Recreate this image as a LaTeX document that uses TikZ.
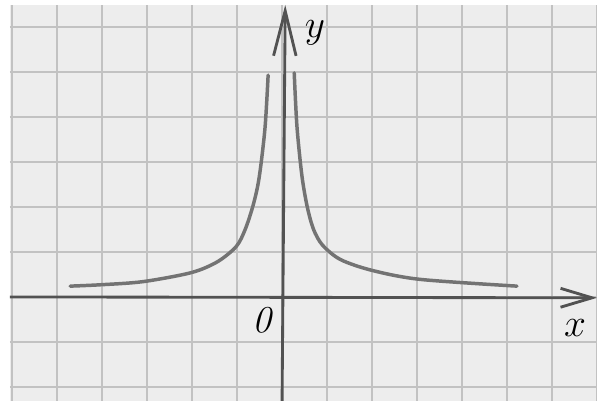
\documentclass[tikz,border=0pt]{standalone}
\usepackage{xcolor}
\usepackage{amsmath, amssymb}
\usepackage{tikz}
\usetikzlibrary{arrows.meta, calc}

\begin{document}
\begin{tikzpicture}[
    axis/.style={line width=1.8pt, black!68},
    branch/.style={line width=2.2pt, black!55, line cap=round, smooth, tension=0.5},
    axislabel/.style={font=\fontsize{24}{24}\selectfont\itshape, inner sep=0pt}
]
    \useasboundingbox (-6.27,-2.31) rectangle (7.0,6.6);
    \fill[white] (-6.27,-2.31) rectangle (7.0,6.6);
    \fill[black!7] (-6.05,-2.31) rectangle (7.0,6.49);
    \draw[black!24, line width=1.1pt, step=1] (-6.05,-2.31) grid (7.0,6.49);
    \draw[axis, -{Straight Barb[length=0.7cm, width=0.42cm]}] (-6.05,0) -- (7.0,-0.02);
    \draw[axis, -{Straight Barb[length=1.0cm, width=0.5cm]}] (0,-2.31) -- (0.07,6.49);
    \draw[branch] plot coordinates {(0.27,4.98) (0.33,3.8) (0.44,2.7) (0.56,2.0)
        (0.7,1.5) (0.9,1.15) (1.3,0.83) (2.0,0.59) (3.07,0.39) (5.22,0.24)};
    \draw[branch] plot coordinates {(-0.31,4.93) (-0.38,3.75) (-0.51,2.65) (-0.64,2.05)
        (-0.82,1.5) (-1.02,1.12) (-1.44,0.78) (-2.02,0.54) (-3.09,0.34) (-4.04,0.27) (-4.71,0.24)};
    \node[axislabel] (ylabel) at (0.73,5.87) {$y$};
    \node[axislabel] (xlabel) at (6.51,-0.69) {$x$};
    \node[axislabel] (origin) at (-0.44,-0.53) {\textit{0}};
\end{tikzpicture}
\end{document}
